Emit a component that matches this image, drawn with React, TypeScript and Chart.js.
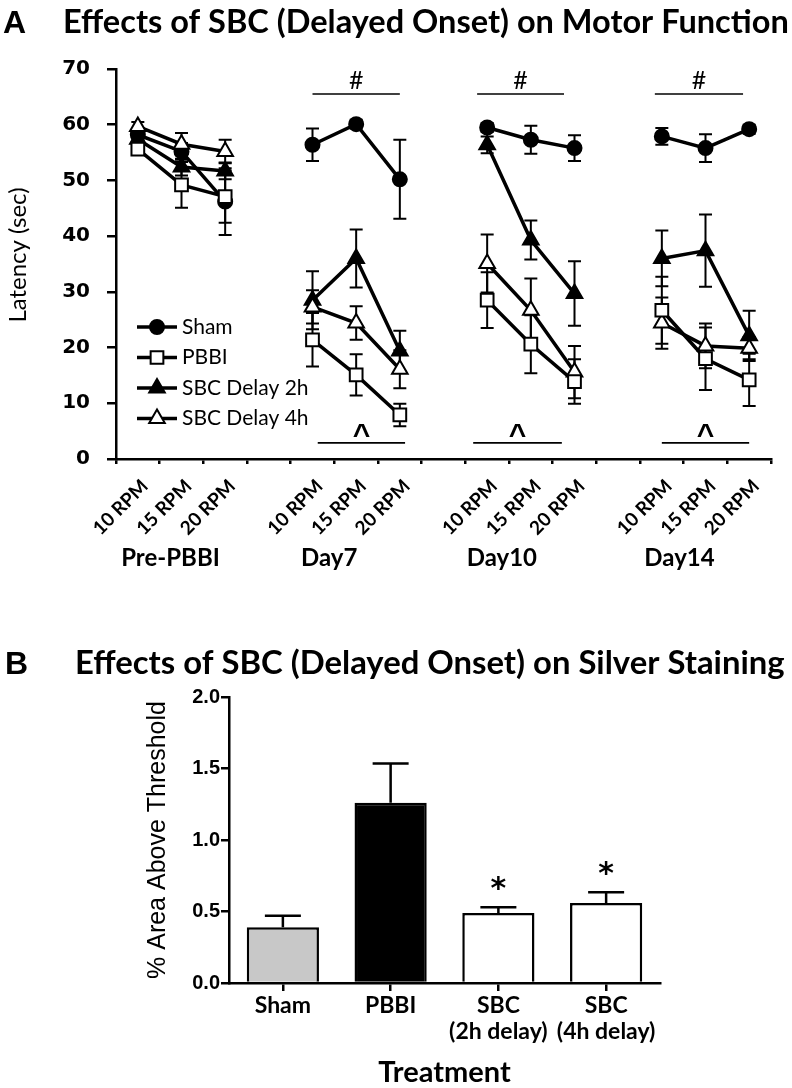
import React, { useEffect, useRef } from 'react';
import { Chart, registerables } from 'chart.js';

Chart.register(...registerables);

// ---------------- Panel A data (latency, sec) ----------------
const rpmLabels = ['10 RPM', '15 RPM', '20 RPM', '', '10 RPM', '15 RPM', '20 RPM', '', '10 RPM', '15 RPM', '20 RPM', '', '10 RPM', '15 RPM', '20 RPM'];
const sessionLabels = ['Pre-PBBI', 'Day7', 'Day10', 'Day14'];
const sessionCenterSlots = [1, 5, 9, 13];
const seriesNames = ['Sham', 'PBBI', 'SBC Delay 2h', 'SBC Delay 4h'];

const shamLatency = [58.2, 55.2, 46.2, null, 56.4, 60.1, 50.2, null, 59.5, 57.3, 55.8, null, 57.9, 55.8, 59.2];
const shamSem = [1.0, 1.5, 6.0, null, 2.9, 0.8, 7.1, null, 0.8, 2.5, 2.3, null, 1.5, 2.5, 0.8];
const pbbiLatency = [55.6, 49.2, 47.1, null, 21.4, 15.1, 7.9, null, 28.5, 20.6, 13.9, null, 26.7, 18.0, 14.2];
const pbbiSem = [1.0, 4.1, 4.7, null, 4.8, 3.7, 2.0, null, 5.0, 5.2, 4.0, null, 6.0, 5.6, 4.7];
const sbc2Latency = [57.4, 52.4, 51.7, null, 28.5, 36.0, 19.4, null, 56.4, 39.3, 29.7, null, 36.0, 37.4, 22.1];
const sbc2Sem = [1.0, 1.5, 1.5, null, 5.2, 5.2, 3.6, null, 1.5, 3.5, 5.8, null, 5.0, 6.5, 4.5];
const sbc4Latency = [59.7, 56.5, 55.2, null, 27.3, 24.4, 16.1, null, 35.1, 26.7, 15.6, null, 24.4, 20.3, 19.9];
const sbc4Sem = [0.8, 2.0, 2.1, null, 3.0, 3.0, 3.4, null, 5.2, 5.7, 4.7, null, 4.6, 4.0, 2.0];

// significance brackets (in slot units) and their levels (sec)
const hashBrackets = [[4.0, 6.0], [7.77, 9.76], [11.84, 13.86]];
const hashLevel = 65.5;
const caretBrackets = [[4.12, 6.12], [7.68, 9.71], [12.0, 14.0]];
const caretLevel = 2.9;

// ---------------- Panel B data (% area above threshold) ----------------
const treatmentLabels: (string | string[])[] = ['Sham', 'PBBI', ['SBC', '(2h delay)'], ['SBC', '(4h delay)']];
const areaValues = [0.39, 1.26, 0.49, 0.56];
const areaSem = [0.08, 0.275, 0.04, 0.075];
const areaMarks = ['', '', '*', '*'];

const BLACK = '#000000';

function fillCentered(ctx: CanvasRenderingContext2D, text: string, cx: number, cy: number) {
  const m = ctx.measureText(text);
  ctx.textAlign = 'center';
  ctx.textBaseline = 'alphabetic';
  ctx.fillText(text, cx, cy + (m.actualBoundingBoxAscent - m.actualBoundingBoxDescent) / 2);
}

function drawHeading(ctx: CanvasRenderingContext2D, o: any) {
  ctx.save();
  ctx.fillStyle = BLACK;
  ctx.textAlign = 'left';
  ctx.textBaseline = 'alphabetic';
  ctx.font = 'bold 32px "Liberation Sans", Arial, sans-serif';
  ctx.fillText(o.letter, o.letterX, o.baseline);
  let size = 29;
  ctx.font = `bold ${size}px Lato, sans-serif`;
  const w = ctx.measureText(o.text).width;
  size = size * (o.textRight - o.textLeft) / w;
  ctx.font = `bold ${size}px Lato, sans-serif`;
  ctx.fillText(o.text, o.textLeft, o.baseline);
  ctx.restore();
}

function drawMarker(ctx: CanvasRenderingContext2D, style: string, fill: string, x: number, y: number, r: number) {
  ctx.beginPath();
  if (style === 'circle') {
    ctx.arc(x, y, r, 0, Math.PI * 2);
  } else if (style === 'rect') {
    const s = Math.SQRT1_2 * r;
    ctx.rect(x - s, y - s, 2 * s, 2 * s);
  } else {
    ctx.moveTo(x, y - r);
    ctx.lineTo(x + Math.sin((2 * Math.PI) / 3) * r, y + r / 2);
    ctx.lineTo(x - Math.sin((2 * Math.PI) / 3) * r, y + r / 2);
    ctx.closePath();
  }
  ctx.fillStyle = fill;
  ctx.fill();
  ctx.lineWidth = 2;
  ctx.strokeStyle = BLACK;
  ctx.stroke();
}

const panelAPlugin = {
  id: 'panelA',
  beforeDatasetsDraw(chart: any, _args: any, o: any) {
    const { ctx } = chart;
    const x = chart.scales.x;
    const y = chart.scales.y;
    ctx.save();
    ctx.strokeStyle = BLACK;
    ctx.lineWidth = 2;
    chart.data.datasets.forEach((ds: any, di: number) => {
      const errs = o.errors[di];
      ds.data.forEach((v: number | null, i: number) => {
        if (v == null || errs[i] == null) return;
        const px = x.getPixelForValue(i);
        const t = y.getPixelForValue(v + errs[i]);
        const b = y.getPixelForValue(v - errs[i]);
        ctx.beginPath();
        ctx.moveTo(px, t);
        ctx.lineTo(px, b);
        ctx.moveTo(px - o.cap, t);
        ctx.lineTo(px + o.cap, t);
        ctx.moveTo(px - o.cap, b);
        ctx.lineTo(px + o.cap, b);
        ctx.stroke();
      });
    });
    ctx.restore();
  },
  afterDraw(chart: any, _args: any, o: any) {
    const { ctx } = chart;
    const x = chart.scales.x;
    const y = chart.scales.y;
    drawHeading(ctx, o.heading);

    ctx.save();
    ctx.fillStyle = BLACK;
    // y-axis title
    ctx.save();
    ctx.translate(o.yTitle.x, o.yTitle.y);
    ctx.rotate(-Math.PI / 2);
    ctx.font = '24px Lato, sans-serif';
    fillCentered(ctx, 'Latency (sec)', 0, 0);
    ctx.restore();

    // session labels
    ctx.font = 'bold 24px Lato, sans-serif';
    ctx.textAlign = 'center';
    ctx.textBaseline = 'alphabetic';
    sessionLabels.forEach((lab, i) => {
      ctx.fillText(lab, x.getPixelForValue(sessionCenterSlots[i]) + o.sessionShift[i], o.sessionBaseline);
    });

    // significance brackets
    ctx.strokeStyle = BLACK;
    ctx.lineWidth = 1.6;
    ctx.font = '25px Lato, sans-serif';
    hashBrackets.forEach(([a, b]) => {
      const yy = y.getPixelForValue(hashLevel);
      const x0 = x.getPixelForValue(a);
      const x1 = x.getPixelForValue(b);
      ctx.beginPath();
      ctx.moveTo(x0, yy);
      ctx.lineTo(x1, yy);
      ctx.stroke();
      fillCentered(ctx, '#', (x0 + x1) / 2, yy - 14);
    });
    ctx.font = 'bold 30px "Liberation Sans", Arial, sans-serif';
    caretBrackets.forEach(([a, b]) => {
      const yy = y.getPixelForValue(caretLevel);
      const x0 = x.getPixelForValue(a);
      const x1 = x.getPixelForValue(b);
      ctx.beginPath();
      ctx.moveTo(x0, yy);
      ctx.lineTo(x1, yy);
      ctx.stroke();
      fillCentered(ctx, '^', (x0 + x1) / 2, yy - 12);
    });

    // legend
    const lg = o.legend;
    chart.data.datasets.forEach((ds: any, i: number) => {
      const ly = lg.y + i * lg.gap;
      ctx.beginPath();
      ctx.lineWidth = 3.5;
      ctx.strokeStyle = BLACK;
      ctx.moveTo(lg.x, ly);
      ctx.lineTo(lg.x + lg.lineLen, ly);
      ctx.stroke();
      drawMarker(ctx, ds.pointStyle, ds.pointBackgroundColor, lg.x + lg.lineLen / 2, ly, ds.pointRadius);
      ctx.fillStyle = BLACK;
      ctx.font = '21px Lato, sans-serif';
      ctx.textAlign = 'left';
      ctx.textBaseline = 'middle';
      ctx.fillText(ds.label, lg.x + lg.lineLen + 5, ly);
    });
    ctx.restore();
  },
};

const panelBPlugin = {
  id: 'panelB',
  afterDatasetsDraw(chart: any, _args: any, o: any) {
    const { ctx } = chart;
    const x = chart.scales.x;
    const y = chart.scales.y;
    ctx.save();
    ctx.strokeStyle = BLACK;
    ctx.lineWidth = 2.5;
    ctx.fillStyle = BLACK;
    areaValues.forEach((v, i) => {
      const px = x.getPixelForValue(i);
      const b = y.getPixelForValue(v);
      const t = y.getPixelForValue(v + areaSem[i]);
      ctx.beginPath();
      ctx.moveTo(px, b);
      ctx.lineTo(px, t);
      ctx.moveTo(px - o.cap, t);
      ctx.lineTo(px + o.cap, t);
      ctx.stroke();
      if (areaMarks[i]) {
        ctx.font = 'bold 30px "DejaVu Sans", sans-serif';
        fillCentered(ctx, areaMarks[i], px, t - 24);
      }
    });
    ctx.restore();
  },
  afterDraw(chart: any, _args: any, o: any) {
    drawHeading(chart.ctx, o.heading);
  },
};

function makeConfigA(): any {
  const styles = [
    { pointStyle: 'circle', fill: BLACK, r: 7, order: 3 },
    { pointStyle: 'rect', fill: '#ffffff', r: 9, order: 1 },
    { pointStyle: 'triangle', fill: BLACK, r: 9, order: 4 },
    { pointStyle: 'triangle', fill: '#ffffff', r: 9, order: 2 },
  ];
  const series = [shamLatency, pbbiLatency, sbc2Latency, sbc4Latency];
  return {
    type: 'line',
    data: {
      labels: rpmLabels,
      datasets: series.map((d, i) => ({
        label: seriesNames[i],
        data: d,
        order: styles[i].order,
        borderColor: BLACK,
        backgroundColor: styles[i].fill,
        borderWidth: 3.5,
        pointStyle: styles[i].pointStyle,
        pointRadius: styles[i].r,
        pointBackgroundColor: styles[i].fill,
        pointBorderColor: BLACK,
        pointBorderWidth: 2,
        spanGaps: false,
        tension: 0,
      })),
    },
    options: {
      responsive: false,
      animation: false,
      devicePixelRatio: 1,
      events: [],
      layout: { padding: { top: 69, right: 21, left: 0, bottom: 0 } },
      plugins: {
        legend: { display: false },
        tooltip: { enabled: false },
        panelA: {
          errors: [shamSem, pbbiSem, sbc2Sem, sbc4Sem],
          cap: 6.5,
          heading: { letter: 'A', letterX: 3, baseline: 33, text: 'Effects of SBC (Delayed Onset) on Motor Function', textLeft: 63, textRight: 789 },
          yTitle: { x: 18, y: 255 },
          sessionShift: [-11, -27, -29, -26],
          sessionBaseline: 566,
          legend: { x: 137, y: 327, gap: 30.5, lineLen: 40 },
        },
      },
      scales: {
        x: {
          type: 'category',
          offset: true,
          grid: { offset: true, drawOnChartArea: false, drawTicks: true, tickLength: 5, color: BLACK, lineWidth: 2.5 },
          border: { display: true, color: BLACK, width: 2.5 },
          ticks: {
            autoSkip: false,
            minRotation: 45,
            maxRotation: 45,
            color: BLACK,
            padding: 11,
            labelOffset: 7,
            font: { family: 'Lato', weight: 'bold', size: 19 },
          },
          afterFit: (s: any) => { s.height = 151; },
        },
        y: {
          min: 0,
          max: 70,
          ticks: { stepSize: 10, color: BLACK, padding: 17, font: { family: '"DejaVu Sans"', weight: 'bold', size: 20 } },
          grid: { drawOnChartArea: false, drawTicks: true, tickLength: 9, color: BLACK, lineWidth: 2.5 },
          border: { display: true, color: BLACK, width: 2.5 },
          afterFit: (s: any) => { s.width = 116; },
        },
      },
    },
    plugins: [panelAPlugin],
  };
}

function makeConfigB(): any {
  const barFills = ['#c8c8c8', BLACK, '#ffffff', '#ffffff'];
  return {
    type: 'bar',
    data: {
      labels: treatmentLabels,
      datasets: [
        {
          data: areaValues,
          backgroundColor: barFills,
          borderColor: BLACK,
          borderWidth: 2.5,
          barPercentage: 0.67,
          categoryPercentage: 1,
        },
      ],
    },
    options: {
      responsive: false,
      animation: false,
      devicePixelRatio: 1,
      events: [],
      layout: { padding: { top: 77, right: 132, left: 0, bottom: 0 } },
      plugins: {
        legend: { display: false },
        tooltip: { enabled: false },
        panelB: {
          cap: 18,
          heading: { letter: 'B', letterX: 5, baseline: 54, text: 'Effects of SBC (Delayed Onset) on Silver Staining', textLeft: 75, textRight: 785 },
        },
      },
      scales: {
        x: {
          offset: true,
          grid: { offset: false, drawOnChartArea: false, drawTicks: true, tickLength: 8, color: BLACK, lineWidth: 2.5 },
          border: { display: true, color: BLACK, width: 2.5 },
          ticks: { autoSkip: false, maxRotation: 0, color: BLACK, padding: 1, font: { family: 'Lato', weight: 'bold', size: 23, lineHeight: 1.15 } },
          title: { display: true, text: 'Treatment', color: BLACK, font: { family: 'Lato', weight: 'bold', size: 29 }, padding: { top: 0, bottom: -2 } },
          afterFit: (s: any) => { s.height = 105; },
        },
        y: {
          min: 0,
          max: 2,
          ticks: { stepSize: 0.5, color: BLACK, padding: 1, callback: (v: any) => Number(v).toFixed(1), font: { family: '"Liberation Sans", Arial', weight: 'bold', size: 20 } },
          grid: { drawOnChartArea: false, drawTicks: true, tickLength: 8, color: BLACK, lineWidth: 2.5 },
          border: { display: true, color: BLACK, width: 2.5 },
          title: { display: true, text: '% Area Above Threshold', color: BLACK, font: { family: '"Liberation Sans", Arial', size: 25 }, padding: { top: 143, bottom: 0 } },
          afterFit: (s: any) => { s.width = 229; },
        },
      },
    },
    plugins: [panelBPlugin],
  };
}

function ChartCanvas({ make, top, height }: { make: () => any; top: number; height: number }) {
  const ref = useRef<HTMLCanvasElement | null>(null);
  useEffect(() => {
    if (!ref.current) return;
    const chart = new Chart(ref.current, make());
    let alive = true;
    if ((document as any).fonts && (document as any).fonts.ready) {
      (document as any).fonts.ready.then(() => { if (alive) chart.update(); });
    }
    return () => { alive = false; chart.destroy(); };
  }, []);
  return (
    <canvas
      ref={ref}
      width={792}
      height={height}
      style={{ position: 'absolute', left: 0, top, width: 792, height, display: 'block' }}
    />
  );
}

export default function App() {
  return (
    <div style={{ position: 'absolute', left: 0, top: 0, width: 792, height: 1088, background: '#ffffff', overflow: 'hidden' }}>
      <ChartCanvas make={makeConfigA} top={0} height={610} />
      <ChartCanvas make={makeConfigB} top={620} height={468} />
    </div>
  );
}
